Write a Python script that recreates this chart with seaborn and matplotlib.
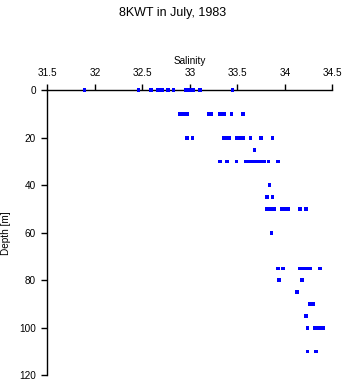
import matplotlib
matplotlib.use("Agg")
import matplotlib.pyplot as plt
import seaborn as sns
import pandas as pd

sns.set_style("white")
plt.rcParams['font.family'] = ['Liberation Sans', 'DejaVu Sans']
plt.rcParams['text.color'] = 'black'
plt.rcParams['axes.labelcolor'] = 'black'
plt.rcParams['xtick.color'] = 'black'
plt.rcParams['ytick.color'] = 'black'

depth_0 = [31.89, 32.46, 32.59, 32.66, 32.69, 32.71, 32.77, 32.83, 32.96, 33.00, 33.04, 33.11, 33.45]
depth_10 = [32.89, 32.93, 32.97, 33.20, 33.23, 33.32, 33.36, 33.44, 33.56]
depth_20 = [32.97, 33.03, 33.36, 33.39, 33.41, 33.49, 33.52, 33.56, 33.64, 33.75, 33.87]
depth_25 = [33.68]
depth_30 = [33.32, 33.39, 33.49, 33.59, 33.62, 33.64, 33.67, 33.70, 33.73, 33.76, 33.78, 33.83, 33.93]
depth_40 = [33.84]
depth_45 = [33.81, 33.87]
depth_50 = [33.81, 33.83, 33.85, 33.87, 33.89, 33.97, 34.00, 34.02, 34.04, 34.16, 34.22]
depth_60 = [33.86]
depth_75 = [33.93, 33.98, 34.16, 34.19, 34.21, 34.23, 34.25, 34.27, 34.37]
depth_80 = [33.94, 34.18]
depth_85 = [34.13]
depth_90 = [34.26, 34.28, 34.30]
depth_95 = [34.22]
depth_100 = [34.24, 34.32, 34.35, 34.38, 34.40]
depth_110 = [34.24, 34.33]

groups = {0: depth_0, 10: depth_10, 20: depth_20, 25: depth_25, 30: depth_30,
          40: depth_40, 45: depth_45, 50: depth_50, 60: depth_60, 75: depth_75,
          80: depth_80, 85: depth_85, 90: depth_90, 95: depth_95, 100: depth_100,
          110: depth_110}

rows = []
for d, vals in groups.items():
    for v in vals:
        rows.append({"Salinity": v, "Depth": d})
df = pd.DataFrame(rows)

x_ticks = [31.5, 32, 32.5, 33, 33.5, 34, 34.5]
x_labels = ["31.5", "32", "32.5", "33", "33.5", "34", "34.5"]
y_ticks = [0, 20, 40, 60, 80, 100, 120]

fig = plt.figure(figsize=(3.46, 3.84), dpi=100)
ax = fig.add_axes([0.1367, 0.0227, 0.8237, 0.7421])
sns.scatterplot(data=df, x="Salinity", y="Depth", ax=ax, color="#0000ff",
                marker="s", s=7, linewidth=0, edgecolor="none",
                clip_on=False, zorder=5)
ax.set_xlim(31.5, 34.5)
ax.set_ylim(120, 0)
ax.xaxis.tick_top()
ax.xaxis.set_label_position("top")
ax.set_xticks(x_ticks)
ax.set_xticklabels(x_labels)
ax.set_yticks(y_ticks)
for s in ["right", "bottom"]:
    ax.spines[s].set_visible(False)
for s in ["left", "top"]:
    ax.spines[s].set_color("black")
    ax.spines[s].set_linewidth(1.0)
    ax.spines[s].set_zorder(2)
ax.tick_params(axis="both", direction="out", length=4, width=1, color="black",
               labelsize=7.2, pad=4)
ax.tick_params(axis="x", top=True, bottom=False, pad=5)
ax.tick_params(axis="y", left=True)
ax.set_xlabel("Salinity", fontsize=7.2, labelpad=3)
ax.set_ylabel("Depth [m]", fontsize=7.2)
ax.yaxis.set_label_coords(-0.128, 0.5)
fig.text(0.5, 0.966, "8KWT in July, 1983", ha="center", va="center", fontsize=9)
fig.savefig("out.png", dpi=100)
